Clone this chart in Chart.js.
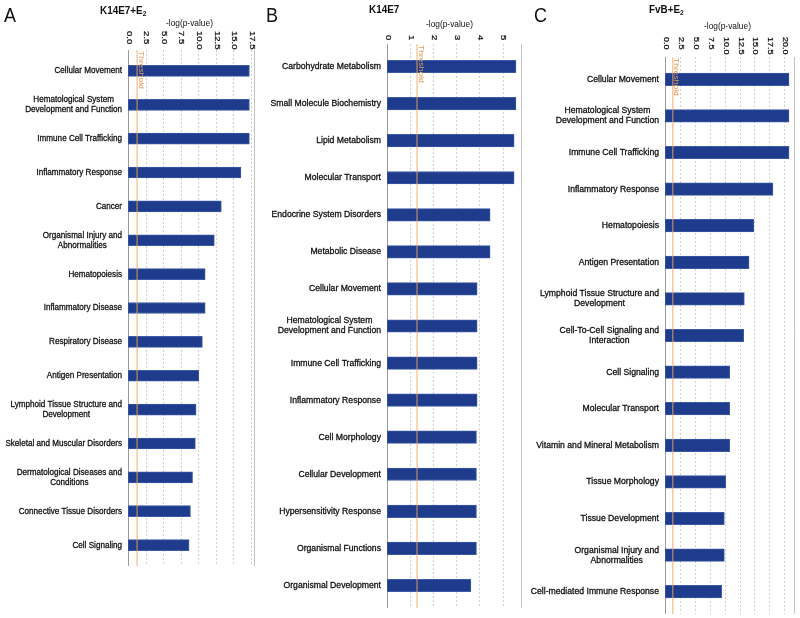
<!DOCTYPE html>
<html><head><meta charset="utf-8">
<script src="https://cdn.jsdelivr.net/npm/chart.js@4"></script>
<style>
body{margin:0;background:#fff;width:800px;height:618px;position:relative;overflow:hidden;font-family:"Liberation Sans",Arial,sans-serif;}
.panel{position:absolute;top:0;height:618px;}
.lbl{position:absolute;white-space:nowrap;color:#111;line-height:1;transform-origin:0 0;}
.letter{font-size:20px;transform:scaleX(0.9);}
.title{font-size:11px;font-weight:bold;transform:scaleX(0.9);}
.title sub{font-size:7.5px;vertical-align:-2px;}
.axt{font-size:9.5px;transform:scaleX(0.88);}
</style></head><body>
<div class="panel" style="left:0;width:262px"><canvas id="cA"></canvas></div>
<div class="panel" style="left:262px;width:268px"><canvas id="cB"></canvas></div>
<div class="panel" style="left:530px;width:270px"><canvas id="cC"></canvas></div>

<div class="lbl letter" style="left:4px;top:5px">A</div>
<div class="lbl title" style="left:100px;top:5px">K14E7+E<sub>2</sub></div>
<div class="lbl axt" style="left:166px;top:18px">-log(p-value)</div>

<div class="lbl letter" style="left:266px;top:5px">B</div>
<div class="lbl title" style="left:369px;top:4px">K14E7</div>
<div class="lbl axt" style="left:426px;top:19px">-log(p-value)</div>

<div class="lbl letter" style="left:534px;top:5px">C</div>
<div class="lbl title" style="left:649px;top:4px">FvB+E<sub>2</sub></div>
<div class="lbl axt" style="left:704px;top:21px">-log(p-value)</div>

<script>
// ---------- data ----------
const threshold = 1.3;

const categoriesA = ['Cellular Movement', ['Hematological System','Development and Function'], 'Immune Cell Trafficking',
  'Inflammatory Response', 'Cancer', ['Organismal Injury and','Abnormalities'], 'Hematopoiesis', 'Inflammatory Disease',
  'Respiratory Disease', 'Antigen Presentation', ['Lymphoid Tissue Structure and','Development'],
  'Skeletal and Muscular Disorders', ['Dermatological Diseases and','Conditions'], 'Connective Tissue Disorders', 'Cell Signaling'];
const valuesA = [17.3, 17.3, 17.3, 16.1, 13.3, 12.3, 11.0, 11.0, 10.6, 10.1, 9.7, 9.6, 9.2, 8.9, 8.7];
const tickValuesA = [0, 2.5, 5, 7.5, 10, 12.5, 15, 17.5];
const tickLabelsA = ['0.0','2.5','5.0','7.5','10.0','12.5','15.0','17.5'];

const categoriesB = ['Carbohydrate Metabolism','Small Molecule Biochemistry','Lipid Metabolism','Molecular Transport',
  'Endocrine System Disorders','Metabolic Disease','Cellular Movement',['Hematological System','Development and Function'],
  'Immune Cell Trafficking','Inflammatory Response','Cell Morphology','Cellular Development','Hypersensitivity Response',
  'Organismal Functions','Organismal Development'];
const valuesB = [5.58, 5.58, 5.50, 5.50, 4.46, 4.46, 3.90, 3.90, 3.90, 3.90, 3.87, 3.87, 3.87, 3.87, 3.63];
const tickValuesB = [0, 1, 2, 3, 4, 5];
const tickLabelsB = ['0','1','2','3','4','5'];

const categoriesC = ['Cellular Movement',['Hematological System','Development and Function'],'Immune Cell Trafficking',
  'Inflammatory Response','Hematopoiesis','Antigen Presentation',['Lymphoid Tissue Structure and','Development'],
  ['Cell-To-Cell Signaling and','Interaction'],'Cell Signaling','Molecular Transport','Vitamin and Mineral Metabolism',
  'Tissue Morphology','Tissue Development',['Organismal Injury and','Abnormalities'],'Cell-mediated Immune Response'];
const valuesC = [20.8, 20.8, 20.8, 18.1, 14.9, 14.1, 13.3, 13.2, 10.85, 10.85, 10.85, 10.2, 9.95, 9.95, 9.5];
const tickValuesC = [0, 2.5, 5, 7.5, 10, 12.5, 15, 17.5, 20];
const tickLabelsC = ['0.0','2.5','5.0','7.5','10.0','12.5','15.0','17.5','20.0'];

// ---------- drawing ----------
const FONT = '"Liberation Sans", Arial, sans-serif';

function decoPlugin(cfg){
  return {
    id: 'deco',
    beforeDatasetsDraw(chart){
      const {ctx, chartArea:a, scales:{x}} = chart;
      const t = a.top - cfg.ext, b = a.bottom + cfg.ext;
      ctx.save();
      ctx.lineWidth = 1;
      ctx.strokeStyle = '#cfcfcf';
      ctx.setLineDash([2,2]);
      cfg.ticks.forEach(v => {
        if (v === 0) return;
        const px = Math.round(x.getPixelForValue(v)) + 0.5;
        ctx.beginPath(); ctx.moveTo(px, t); ctx.lineTo(px, b); ctx.stroke();
      });
      ctx.setLineDash([]);
      ctx.strokeStyle = '#c4c4c4';
      const pr = Math.round(x.getPixelForValue(cfg.max)) - 0.5;
      ctx.beginPath(); ctx.moveTo(pr, t); ctx.lineTo(pr, b); ctx.stroke();
      ctx.strokeStyle = '#9a9a9a';
      const p0 = Math.round(x.getPixelForValue(0)) + 0.5;
      ctx.beginPath(); ctx.moveTo(p0, t); ctx.lineTo(p0, b); ctx.stroke();
      ctx.restore();
    },
    afterDatasetsDraw(chart){
      const {ctx, chartArea:a, scales:{x}} = chart;
      const t = a.top - cfg.ext, b = a.bottom + cfg.ext;
      const px = x.getPixelForValue(threshold);
      ctx.save();
      ctx.strokeStyle = 'rgba(240,165,95,0.6)';
      ctx.lineWidth = 1.5;
      ctx.beginPath(); ctx.moveTo(px, t); ctx.lineTo(px, b); ctx.stroke();
      ctx.translate(px + 1.5, t + 1);
      ctx.rotate(Math.PI/2);
      ctx.scale(1, 0.85);
      ctx.fillStyle = '#e09a55';
      ctx.font = '8.5px ' + FONT;
      ctx.textAlign = 'left';
      ctx.textBaseline = 'alphabetic';
      ctx.fillText('Threshold', 0, 0);
      ctx.restore();
    },
    afterDraw(chart){
      const {ctx, chartArea:a, scales:{x, y}} = chart;
      // rotated x tick labels (top axis)
      ctx.save();
      ctx.fillStyle = '#111';
      ctx.font = cfg.tickFont + 'px ' + FONT;
      ctx.textAlign = 'left';
      ctx.textBaseline = 'middle';
      cfg.ticks.forEach((v, i) => {
        const px = x.getPixelForValue(v) + 1;
        ctx.save();
        ctx.translate(px, cfg.tickY);
        ctx.rotate(Math.PI/2);
        ctx.scale(1, 0.82);
        ctx.fillText(cfg.tickLabels[i], 0, 0);
        ctx.strokeStyle = '#111'; ctx.lineWidth = 0.3;
        ctx.strokeText(cfg.tickLabels[i], 0, 0);
        ctx.restore();
      });
      ctx.restore();
      // category labels: block right-aligned to axis, lines centred inside block
      ctx.save();
      ctx.font = '9px ' + FONT;
      ctx.fillStyle = '#111';
      ctx.strokeStyle = '#111';
      ctx.lineWidth = 0.3;
      ctx.textAlign = 'center';
      ctx.textBaseline = 'middle';
      const sx = cfg.labelSX;
      const right = a.left - 6;
      chart.data.labels.forEach((lab, i) => {
        const lines = Array.isArray(lab) ? lab : [lab];
        const w = Math.max(...lines.map(l => ctx.measureText(l).width)) * sx;
        const cy = y.getPixelForValue(i);
        lines.forEach((l, j) => {
          const ly = cy + (j - (lines.length - 1) / 2) * 10;
          ctx.save();
          ctx.translate(right - w / 2, ly);
          ctx.scale(sx, 1);
          ctx.fillText(l, 0, 0);
          ctx.strokeText(l, 0, 0);
          ctx.restore();
        });
      });
      ctx.restore();
    }
  };
}

function makeChart(id, cfg){
  new Chart(document.getElementById(id), {
    type: 'bar',
    data: {
      labels: cfg.categories,
      datasets: [{
        data: cfg.values,
        backgroundColor: '#1f3b8c',
        borderColor: '#3d5aa8',
        borderWidth: 1,
        borderSkipped: false,
        barThickness: cfg.barThickness
      }]
    },
    options: {
      indexAxis: 'y',
      responsive: true,
      maintainAspectRatio: false,
      animation: false,
      devicePixelRatio: 1,
      layout: { padding: { left: 0, right: cfg.padRight, top: cfg.padTop, bottom: cfg.padBottom } },
      plugins: { legend: { display: false }, tooltip: { enabled: false } },
      scales: {
        x: { type: 'linear', display: false, min: 0, max: cfg.max },
        y: {
          type: 'category',
          grid: { display: false, drawTicks: false },
          border: { display: false },
          ticks: { display: false, autoSkip: false },
          afterFit: (s) => { s.width = cfg.axisWidth; }
        }
      }
    },
    plugins: [decoPlugin(cfg)]
  });
}

makeChart('cA', { categories: categoriesA, values: valuesA, ticks: tickValuesA, tickLabels: tickLabelsA, labelSX: 0.9,
  max: 18.1, axisWidth: 128, padRight: 7, padTop: 54, padBottom: 56, barThickness: 11, ext: 4, tickY: 31, tickFont: 9.5 });
makeChart('cB', { categories: categoriesB, values: valuesB, ticks: tickValuesB, tickLabels: tickLabelsB, labelSX: 0.96,
  max: 5.84, axisWidth: 125, padRight: 8, padTop: 48, padBottom: 14, barThickness: 12.5, ext: 4, tickY: 35, tickFont: 9.5 });
makeChart('cC', { categories: categoriesC, values: valuesC, ticks: tickValuesC, tickLabels: tickLabelsC, labelSX: 0.96,
  max: 21.8, axisWidth: 135, padRight: 5, padTop: 61, padBottom: 8, barThickness: 12.5, ext: 4, tickY: 37, tickFont: 9 });
</script>
</body></html>
